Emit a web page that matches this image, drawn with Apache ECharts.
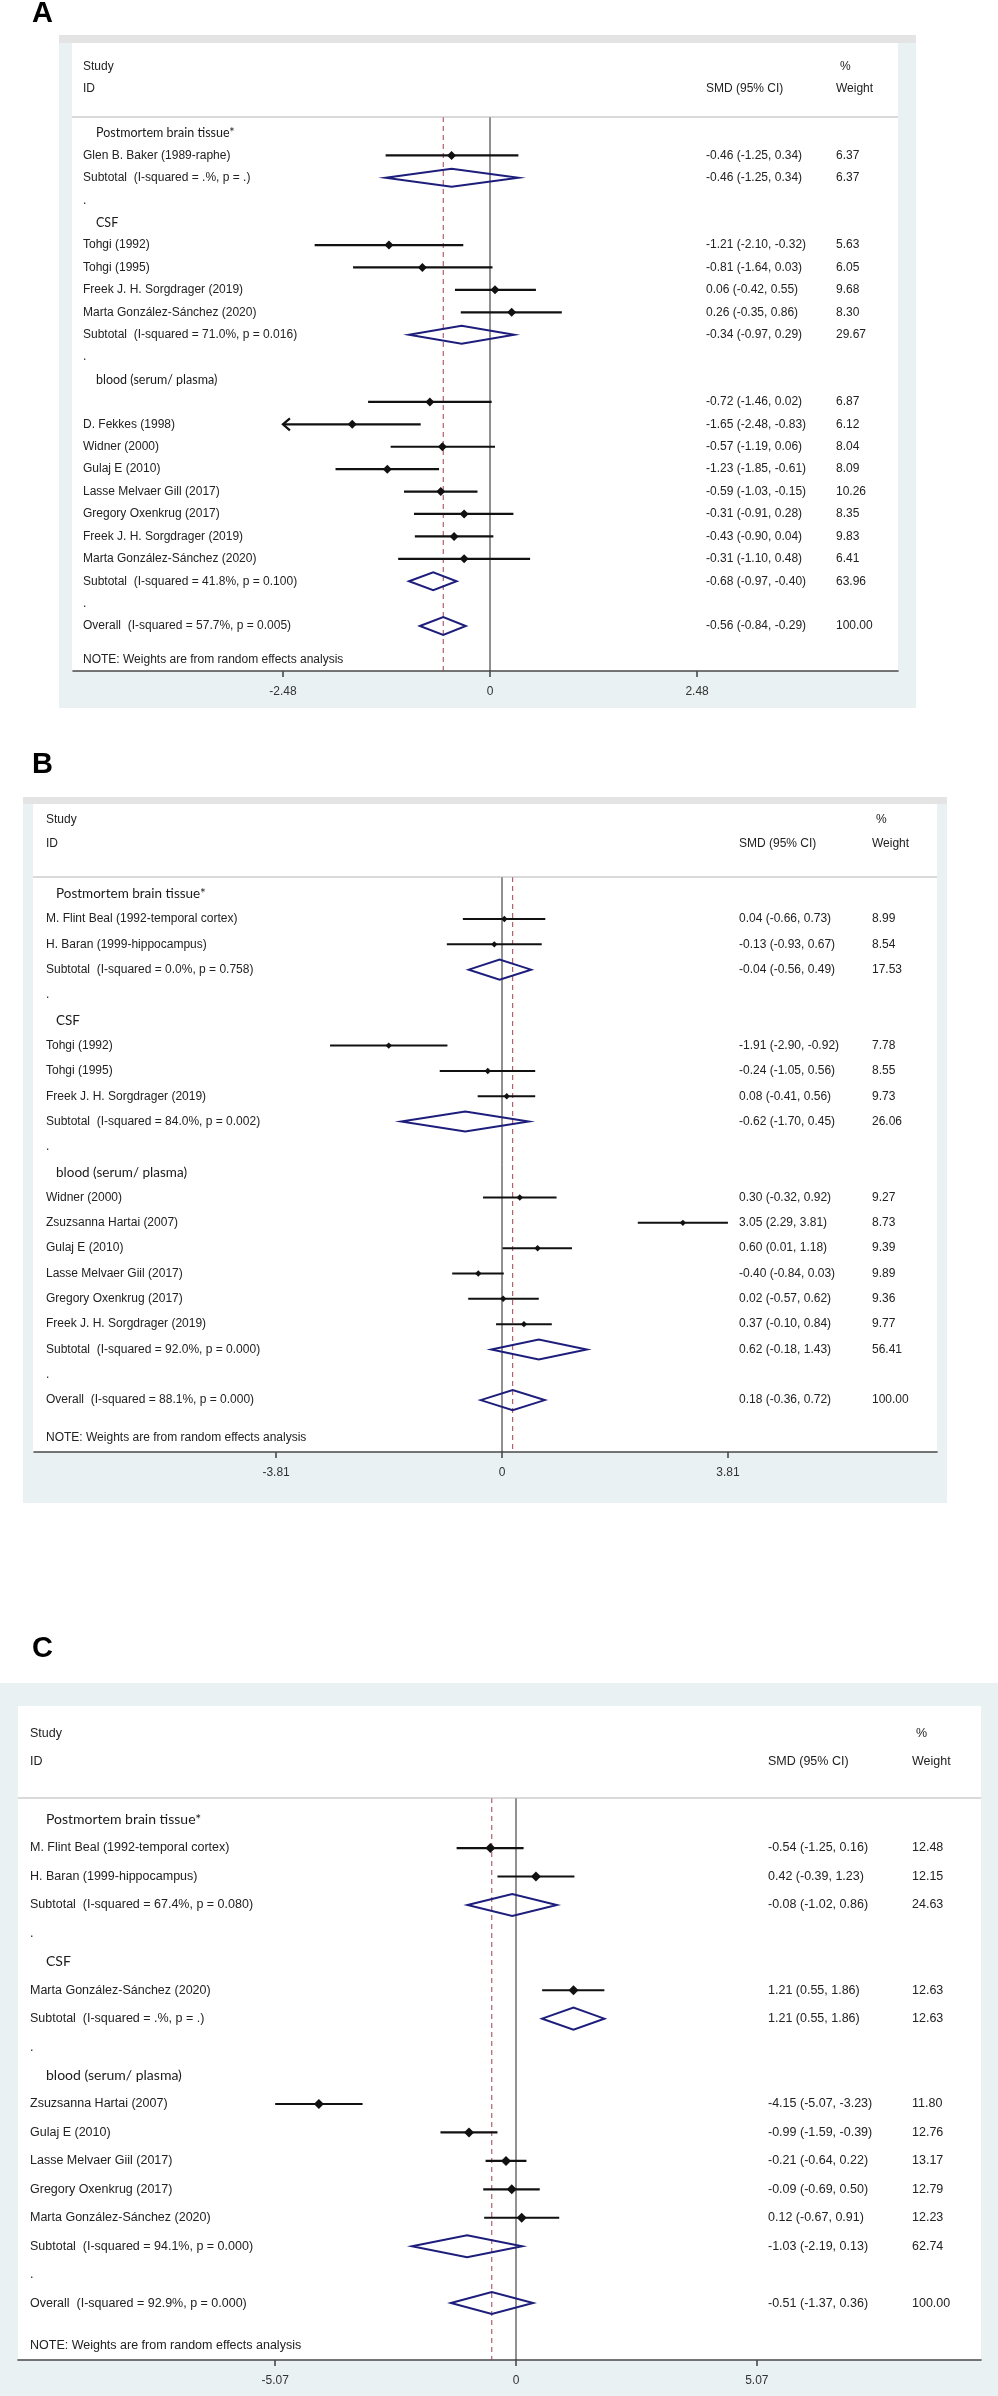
<!DOCTYPE html>
<html>
<head>
<meta charset="utf-8">
<title>Forest plots A B C</title>
<script src="https://cdn.jsdelivr.net/npm/echarts@6/dist/echarts.min.js"></script>
<style>
  html, body { margin: 0; padding: 0; background: #fff; }
  #chart { width: 998px; height: 2396px; }
</style>
</head>
<body>
<div id="chart"></div>
<script>
// ---- panel A ----
const aLabels = ['Postmortem brain tissue*', 'Glen B. Baker (1989-raphe)', 'Subtotal  (I-squared = .%, p = .)', '.',
  'CSF', 'Tohgi (1992)', 'Tohgi (1995)', 'Freek J. H. Sorgdrager (2019)', 'Marta González-Sánchez (2020)',
  'Subtotal  (I-squared = 71.0%, p = 0.016)', '.',
  'blood (serum/ plasma)', '', 'D. Fekkes (1998)', 'Widner (2000)', 'Gulaj E (2010)', 'Lasse Melvaer Gill (2017)',
  'Gregory Oxenkrug (2017)', 'Freek J. H. Sorgdrager (2019)', 'Marta González-Sánchez (2020)',
  'Subtotal  (I-squared = 41.8%, p = 0.100)', '.', 'Overall  (I-squared = 57.7%, p = 0.005)',
  'NOTE: Weights are from random effects analysis']
const aKind = ['h', 's', 'd', '.', 'h', 's', 's', 's', 's', 'd', '.', 'h', 's', 's', 's', 's', 's', 's', 's', 's', 'd', '.', 'd', 'n']
const aEst = [null, -0.46, -0.46, null, null, -1.21, -0.81, 0.06, 0.26, -0.34, null, null, -0.72, -1.65, -0.57, -1.23, -0.59, -0.31, -0.43, -0.31, -0.68, null, -0.56, null]
const aLow = [null, -1.25, -1.25, null, null, -2.10, -1.64, -0.42, -0.35, -0.97, null, null, -1.46, -2.48, -1.19, -1.85, -1.03, -0.91, -0.90, -1.10, -0.97, null, -0.84, null]
const aHigh = [null, 0.34, 0.34, null, null, -0.32, 0.03, 0.55, 0.86, 0.29, null, null, 0.02, -0.83, 0.06, -0.61, -0.15, 0.28, 0.04, 0.48, -0.40, null, -0.29, null]
const aWeight = [null, 6.37, 6.37, null, null, 5.63, 6.05, 9.68, 8.30, 29.67, null, null, 6.87, 6.12, 8.04, 8.09, 10.26, 8.35, 9.83, 6.41, 63.96, null, 100.00, null]
const aArrow = [13]
const aTicks = [-2.48, 0, 2.48]

// ---- panel B ----
const bLabels = ['Postmortem brain tissue*', 'M. Flint Beal (1992-temporal cortex)', 'H. Baran (1999-hippocampus)',
  'Subtotal  (I-squared = 0.0%, p = 0.758)', '.',
  'CSF', 'Tohgi (1992)', 'Tohgi (1995)', 'Freek J. H. Sorgdrager (2019)', 'Subtotal  (I-squared = 84.0%, p = 0.002)', '.',
  'blood (serum/ plasma)', 'Widner (2000)', 'Zsuzsanna Hartai (2007)', 'Gulaj E (2010)', 'Lasse Melvaer Giil (2017)',
  'Gregory Oxenkrug (2017)', 'Freek J. H. Sorgdrager (2019)', 'Subtotal  (I-squared = 92.0%, p = 0.000)', '.',
  'Overall  (I-squared = 88.1%, p = 0.000)', 'NOTE: Weights are from random effects analysis']
const bKind = ['h', 's', 's', 'd', '.', 'h', 's', 's', 's', 'd', '.', 'h', 's', 's', 's', 's', 's', 's', 'd', '.', 'd', 'n']
const bEst = [null, 0.04, -0.13, -0.04, null, null, -1.91, -0.24, 0.08, -0.62, null, null, 0.30, 3.05, 0.60, -0.40, 0.02, 0.37, 0.62, null, 0.18, null]
const bLow = [null, -0.66, -0.93, -0.56, null, null, -2.90, -1.05, -0.41, -1.70, null, null, -0.32, 2.29, 0.01, -0.84, -0.57, -0.10, -0.18, null, -0.36, null]
const bHigh = [null, 0.73, 0.67, 0.49, null, null, -0.92, 0.56, 0.56, 0.45, null, null, 0.92, 3.81, 1.18, 0.03, 0.62, 0.84, 1.43, null, 0.72, null]
const bWeight = [null, 8.99, 8.54, 17.53, null, null, 7.78, 8.55, 9.73, 26.06, null, null, 9.27, 8.73, 9.39, 9.89, 9.36, 9.77, 56.41, null, 100.00, null]
const bArrow = []
const bTicks = [-3.81, 0, 3.81]

// ---- panel C ----
const cLabels = ['Postmortem brain tissue*', 'M. Flint Beal (1992-temporal cortex)', 'H. Baran (1999-hippocampus)',
  'Subtotal  (I-squared = 67.4%, p = 0.080)', '.',
  'CSF', 'Marta González-Sánchez (2020)', 'Subtotal  (I-squared = .%, p = .)', '.',
  'blood (serum/ plasma)', 'Zsuzsanna Hartai (2007)', 'Gulaj E (2010)', 'Lasse Melvaer Giil (2017)',
  'Gregory Oxenkrug (2017)', 'Marta González-Sánchez (2020)', 'Subtotal  (I-squared = 94.1%, p = 0.000)', '.',
  'Overall  (I-squared = 92.9%, p = 0.000)', 'NOTE: Weights are from random effects analysis']
const cKind = ['h', 's', 's', 'd', '.', 'h', 's', 'd', '.', 'h', 's', 's', 's', 's', 's', 'd', '.', 'd', 'n']
const cEst = [null, -0.54, 0.42, -0.08, null, null, 1.21, 1.21, null, null, -4.15, -0.99, -0.21, -0.09, 0.12, -1.03, null, -0.51, null]
const cLow = [null, -1.25, -0.39, -1.02, null, null, 0.55, 0.55, null, null, -5.07, -1.59, -0.64, -0.69, -0.67, -2.19, null, -1.37, null]
const cHigh = [null, 0.16, 1.23, 0.86, null, null, 1.86, 1.86, null, null, -3.23, -0.39, 0.22, 0.50, 0.91, 0.13, null, 0.36, null]
const cWeight = [null, 12.48, 12.15, 24.63, null, null, 12.63, 12.63, null, null, 11.80, 12.76, 13.17, 12.79, 12.23, 62.74, null, 100.00, null]
const cArrow = []
const cTicks = [-5.07, 0, 5.07]

const TXT = "'Liberation Sans', Arial, sans-serif"
const HEAD = "Lato, 'Open Sans', sans-serif"
const NAVY = '#1d1d7c'
const LIGHT = '#e9f1f3'

// layout of each panel (pixels)
const panels = [
  { labels: aLabels, kind: aKind, est: aEst, lo: aLow, hi: aHigh, wt: aWeight, arrow: aArrow, ticks: aTicks,
    letter: 'A', letterY: 14, outer: [59, 35, 916, 708], band: true, inner: [72, 43, 898, 671],
    left: 73, right: 898, zeroX: 490, ppu: 83.5, top: 117, bottom: 671, rowTop: 133, rowStep: 22.41,
    textX: 83, headX: 96, headSize: 12.5, fontSize: 12, smdX: 706, wtX: 836, studyY: 67, idY: 89,
    mark: 4.5, ciW: 2.2, dia: 9 },
  { labels: bLabels, kind: bKind, est: bEst, lo: bLow, hi: bHigh, wt: bWeight, arrow: bArrow, ticks: bTicks,
    letter: 'B', letterY: 765, outer: [23, 797, 947, 1503], band: true, inner: [33, 804, 937, 1452],
    left: 34, right: 937, zeroX: 502, ppu: 59.3, top: 877, bottom: 1452, rowTop: 893.7, rowStep: 25.32,
    textX: 46, headX: 56, headSize: 13.5, fontSize: 12, smdX: 739, wtX: 872, studyY: 820, idY: 844,
    mark: 3.2, ciW: 2, dia: 10 },
  { labels: cLabels, kind: cKind, est: cEst, lo: cLow, hi: cHigh, wt: cWeight, arrow: cArrow, ticks: cTicks,
    letter: 'C', letterY: 1649, outer: [0, 1683, 998, 2396], band: false, inner: [18, 1706, 981, 2360],
    left: 18, right: 981, zeroX: 516, ppu: 47.5, top: 1798, bottom: 2360, rowTop: 1819.6, rowStep: 28.44,
    textX: 30, headX: 46, headSize: 14, fontSize: 12.5, smdX: 768, wtX: 912, studyY: 1734, idY: 1762,
    mark: 5, ciW: 2.2, dia: 11 }
]

const fmt = v => v.toFixed(2)

function makeRender(p) {
  return function (params, api) {
    const i = params.dataIndex
    const kind = p.kind[i]
    const row = i + (kind === 'n' ? 0.5 : 0)
    const cy = api.coord([0, row])[1]
    const kids = []
    const font = p.fontSize + 'px ' + TXT
    if (kind === 'h') {
      kids.push({ type: 'text', x: p.headX, y: cy,
        style: { text: p.labels[i], font: p.headSize + 'px ' + HEAD, fill: '#1a1a1a', verticalAlign: 'middle' } })
    } else {
      kids.push({ type: 'text', x: p.textX, y: cy,
        style: { text: p.labels[i], font: font, fill: '#222', verticalAlign: 'middle' } })
    }
    if (kind === 's' || kind === 'd') {
      const xe = api.coord([p.est[i], row])[0]
      const xl = api.coord([p.lo[i], row])[0]
      const xh = api.coord([p.hi[i], row])[0]
      kids.push({ type: 'text', x: p.smdX, y: cy,
        style: { text: fmt(p.est[i]) + ' (' + fmt(p.lo[i]) + ', ' + fmt(p.hi[i]) + ')', font: font, fill: '#222', verticalAlign: 'middle' } })
      kids.push({ type: 'text', x: p.wtX, y: cy,
        style: { text: fmt(p.wt[i]), font: font, fill: '#222', verticalAlign: 'middle' } })
      if (kind === 's') {
        kids.push({ type: 'line', shape: { x1: xl, y1: cy, x2: xh, y2: cy },
          style: { stroke: '#111', lineWidth: p.ciW } })
        const m = p.mark
        kids.push({ type: 'polygon', shape: { points: [[xe - m, cy], [xe, cy - m], [xe + m, cy], [xe, cy + m]] },
          style: { fill: '#111' } })
        if (p.arrow.indexOf(i) >= 0) {
          kids.push({ type: 'polyline', shape: { points: [[xl + 7, cy - 6], [xl, cy], [xl + 7, cy + 6]] },
            style: { stroke: '#111', lineWidth: p.ciW, fill: null } })
        }
      } else {
        const h = p.dia
        kids.push({ type: 'polygon', shape: { points: [[xl, cy], [xe, cy - h], [xh, cy], [xe, cy + h]] },
          style: { fill: null, stroke: NAVY, lineWidth: 2 } })
      }
    }
    return { type: 'group', children: kids }
  }
}

const grid = [], xAxis = [], yAxis = [], series = [], graphic = []

panels.forEach((p, k) => {
  const xMin = (p.left - p.zeroX) / p.ppu
  const xMax = (p.right - p.zeroX) / p.ppu
  const yMin = (p.top - p.rowTop) / p.rowStep
  const yMax = (p.bottom - p.rowTop) / p.rowStep
  const overall = p.est[p.kind.lastIndexOf('d')]

  grid.push({ left: p.left, top: p.top, width: p.right - p.left, height: p.bottom - p.top })
  xAxis.push({
    gridIndex: k, type: 'value', min: xMin, max: xMax, position: 'bottom',
    axisLine: { show: true, onZero: false, lineStyle: { color: '#4a4a4a', width: 1.6 } },
    axisTick: { show: true, customValues: p.ticks, length: 6, lineStyle: { color: '#4a4a4a', width: 1.6 } },
    axisLabel: { customValues: p.ticks, margin: 15, color: '#333', fontSize: 12, fontFamily: TXT,
      formatter: v => (v === 0 ? '0' : fmt(v)) },
    splitLine: { show: false }
  })
  yAxis.push({ gridIndex: k, type: 'value', inverse: true, min: yMin, max: yMax, show: false })

  series.push({
    type: 'line', xAxisIndex: k, yAxisIndex: k, silent: true, symbol: 'none', z: 1,
    data: [[0, yMin], [0, yMax]], lineStyle: { color: '#222', width: 1 }
  })
  series.push({
    type: 'line', xAxisIndex: k, yAxisIndex: k, silent: true, symbol: 'none', z: 1,
    data: [[overall, yMin], [overall, yMax]], lineStyle: { color: '#a3414f', width: 1, type: [5, 4] }
  })
  series.push({
    type: 'custom', xAxisIndex: k, yAxisIndex: k, clip: false, silent: true, z: 3,
    renderItem: makeRender(p),
    data: p.labels.map((_, i) => [p.est[i] == null ? 0 : p.est[i], i])
  })

  // frame decoration
  const o = p.outer, n = p.inner
  graphic.push({ type: 'rect', z: -10, shape: { x: o[0], y: o[1], width: o[2] - o[0], height: o[3] - o[1] }, style: { fill: LIGHT } })
  if (p.band) {
    graphic.push({ type: 'rect', z: -9, shape: { x: o[0], y: o[1], width: o[2] - o[0], height: n[1] - o[1] }, style: { fill: '#e4e4e4' } })
  }
  graphic.push({ type: 'rect', z: -8, shape: { x: n[0], y: n[1], width: n[2] - n[0], height: n[3] - n[1] }, style: { fill: '#fff' } })
  graphic.push({ type: 'line', z: 5, shape: { x1: n[0], y1: p.top, x2: n[2], y2: p.top }, style: { stroke: '#b4b4b4', lineWidth: 1 } })
  graphic.push({ type: 'text', z: 5, x: 32, y: p.letterY, style: { text: p.letter, font: 'bold 29px ' + TXT, fill: '#000', verticalAlign: 'middle' } })
  const hf = p.fontSize + 'px ' + TXT
  graphic.push({ type: 'text', z: 5, x: p.textX, y: p.studyY, style: { text: 'Study', font: hf, fill: '#222', verticalAlign: 'middle' } })
  graphic.push({ type: 'text', z: 5, x: p.textX, y: p.idY, style: { text: 'ID', font: hf, fill: '#222', verticalAlign: 'middle' } })
  graphic.push({ type: 'text', z: 5, x: p.wtX + 4, y: p.studyY, style: { text: '%', font: hf, fill: '#222', verticalAlign: 'middle' } })
  graphic.push({ type: 'text', z: 5, x: p.smdX, y: p.idY, style: { text: 'SMD (95% CI)', font: hf, fill: '#222', verticalAlign: 'middle' } })
  graphic.push({ type: 'text', z: 5, x: p.wtX, y: p.idY, style: { text: 'Weight', font: hf, fill: '#222', verticalAlign: 'middle' } })
})

const chart = echarts.init(document.getElementById('chart'))
chart.setOption({
  animation: false,
  backgroundColor: '#fff',
  grid: grid,
  xAxis: xAxis,
  yAxis: yAxis,
  graphic: { elements: graphic },
  series: series
})
window.addEventListener('resize', () => {
  chart.resize()
})
</script>
</body>
</html>
